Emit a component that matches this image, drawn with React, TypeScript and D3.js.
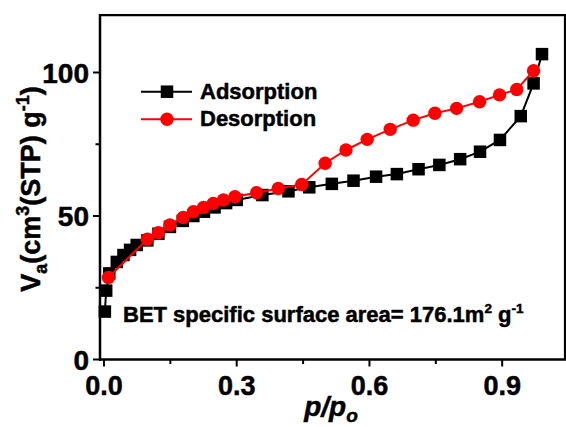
import React from "react";
import * as d3 from "d3";

const adsP = [0.002, 0.005, 0.012, 0.029, 0.044, 0.059, 0.074, 0.098, 0.123, 0.149, 0.178, 0.202, 0.226, 0.25, 0.276, 0.3, 0.358, 0.417, 0.464, 0.515, 0.564, 0.615, 0.662, 0.711, 0.758, 0.805, 0.85, 0.895, 0.942, 0.971, 0.99];
const adsV = [16.7, 24, 30, 34, 36.4, 38.2, 39.9, 41.5, 43.8, 46.2, 48.3, 50, 51.5, 53, 54.5, 55.6, 57.3, 58.6, 60, 61.2, 62.3, 63.7, 64.6, 66.3, 67.8, 69.8, 72.4, 76.5, 84.8, 96.2, 106.4];
const desP = [0.01, 0.098, 0.123, 0.149, 0.179, 0.202, 0.225, 0.247, 0.27, 0.296, 0.345, 0.394, 0.447, 0.5, 0.547, 0.595, 0.647, 0.699, 0.748, 0.797, 0.849, 0.894, 0.933, 0.971];
const desV = [28.6, 41.9, 44.2, 46.9, 49.5, 51.5, 53, 54.4, 55.6, 56.7, 58.1, 59.6, 61, 68.4, 73, 76.7, 80.2, 83.4, 85.8, 87.5, 89.8, 92.2, 94.1, 100.6];

const xMajor = [0, 0.3, 0.6, 0.9];
const xMinor = [0.15, 0.45, 0.75];
const xLabels = ["0.0", "0.3", "0.6", "0.9"];
const yMajor = [0, 50, 100];
const yMinor = [25, 75];
const yLabels = ["0", "50", "100"];
const seriesNames = ["Adsorption", "Desorption"];

const FONT = "'Liberation Sans', Arial, sans-serif";

export default function App() {
  const x = d3.scaleLinear().domain([-0.009, 1.042]).range([100, 565]);
  const y = d3.scaleLinear().domain([0, 120]).range([359.5, 15.1]);
  const ads = adsP.map((p, i) => [p, adsV[i]] as [number, number]);
  const des = desP.map((p, i) => [p, desV[i]] as [number, number]);
  const line = d3.line<[number, number]>().x((d) => x(d[0])).y((d) => y(d[1]));
  const [x0, x1] = x.range();
  const [y0, y1] = y.range();
  const sq = 12.5;
  const ts = { stroke: "#000", strokeWidth: 0.5 };
  return (
    <svg width={566} height={427} style={{ position: "absolute", left: 0, top: 0, background: "#fff" }} fontFamily={FONT} fontWeight="bold">
      <rect x={0} y={0} width={566} height={427} fill="#fff" />
      {/* frame */}
      <line x1={x0} x2={566} y1={y1} y2={y1} stroke="#000" strokeWidth={2.2} />
      <line x1={x1} x2={x1} y1={y1} y2={y0} stroke="#000" strokeWidth={2.2} />
      <line x1={x0} x2={x0} y1={y1 - 1} y2={y0 + 1.2} stroke="#000" strokeWidth={2.5} />
      <line x1={x0 - 1} x2={566} y1={y0} y2={y0} stroke="#000" strokeWidth={2.5} />
      {/* x ticks */}
      {xMajor.map((t) => (
        <line key={"xm" + t} x1={x(t)} x2={x(t)} y1={y0} y2={y0 + 7} stroke="#000" strokeWidth={2} />
      ))}
      {xMinor.map((t) => (
        <line key={"xn" + t} x1={x(t)} x2={x(t)} y1={y0} y2={y0 + 4.5} stroke="#000" strokeWidth={2} />
      ))}
      {xMajor.map((t, i) => (
        <text key={"xl" + t} x={x(t)} y={395} fontSize={27} textAnchor="middle" {...ts}>{xLabels[i]}</text>
      ))}
      {/* y ticks */}
      {yMajor.map((t) => (
        <line key={"ym" + t} x1={x0 - 7} x2={x0} y1={y(t)} y2={y(t)} stroke="#000" strokeWidth={2} />
      ))}
      {yMinor.map((t) => (
        <line key={"yn" + t} x1={x0 - 4.5} x2={x0} y1={y(t)} y2={y(t)} stroke="#000" strokeWidth={2} />
      ))}
      {yMajor.map((t, i) => (
        <text key={"yl" + t} x={89} y={y(t) + 10} fontSize={28} textAnchor="end" {...ts}>{yLabels[i]}</text>
      ))}
      {/* axis titles */}
      <text x={331} y={416} fontSize={28} fontStyle="italic" textAnchor="middle" {...ts}>
        p/p<tspan fontSize={19} dy={6}>o</tspan>
      </text>
      <text transform="translate(40,189) rotate(-90)" fontSize={27} textAnchor="middle" {...ts}>
        V<tspan fontSize={18} dy={7}>a</tspan>
        <tspan dy={-7}>(cm</tspan>
        <tspan fontSize={18} dy={-11}>3</tspan>
        <tspan dy={11}>(STP) g</tspan>
        <tspan fontSize={18} dy={-11}>-1</tspan>
        <tspan dy={11}>)</tspan>
      </text>
      {/* series */}
      <path d={line(ads) || ""} fill="none" stroke="#000" strokeWidth={2} />
      {ads.map((d, i) => (
        <rect key={"a" + i} x={x(d[0]) - sq / 2} y={y(d[1]) - sq / 2} width={sq} height={sq} fill="#000" />
      ))}
      <path d={line(des) || ""} fill="none" stroke="#ff0000" strokeWidth={2} />
      {des.map((d, i) => (
        <circle key={"d" + i} cx={x(d[0])} cy={y(d[1])} r={6.7} fill="#ff0000" />
      ))}
      {/* legend */}
      <line x1={141} x2={192} y1={91.7} y2={91.7} stroke="#000" strokeWidth={2} />
      <rect x={167 - sq / 2} y={91.7 - sq / 2} width={sq} height={sq} fill="#000" />
      <text x={200} y={98.5} fontSize={22} {...ts}>{seriesNames[0]}</text>
      <line x1={141} x2={192} y1={119.3} y2={119.3} stroke="#ff0000" strokeWidth={2} />
      <circle cx={167} cy={119.3} r={6.7} fill="#ff0000" />
      <text x={200} y={126.3} fontSize={22} {...ts}>{seriesNames[1]}</text>
      {/* annotation */}
      <text x={123} y={322} fontSize={22} {...ts}>
        BET specific surface area= 176.1m<tspan fontSize={13.5} dy={-9}>2</tspan>
        <tspan dy={9}> g</tspan>
        <tspan fontSize={13.5} dy={-9}>-1</tspan>
      </text>
    </svg>
  );
}
